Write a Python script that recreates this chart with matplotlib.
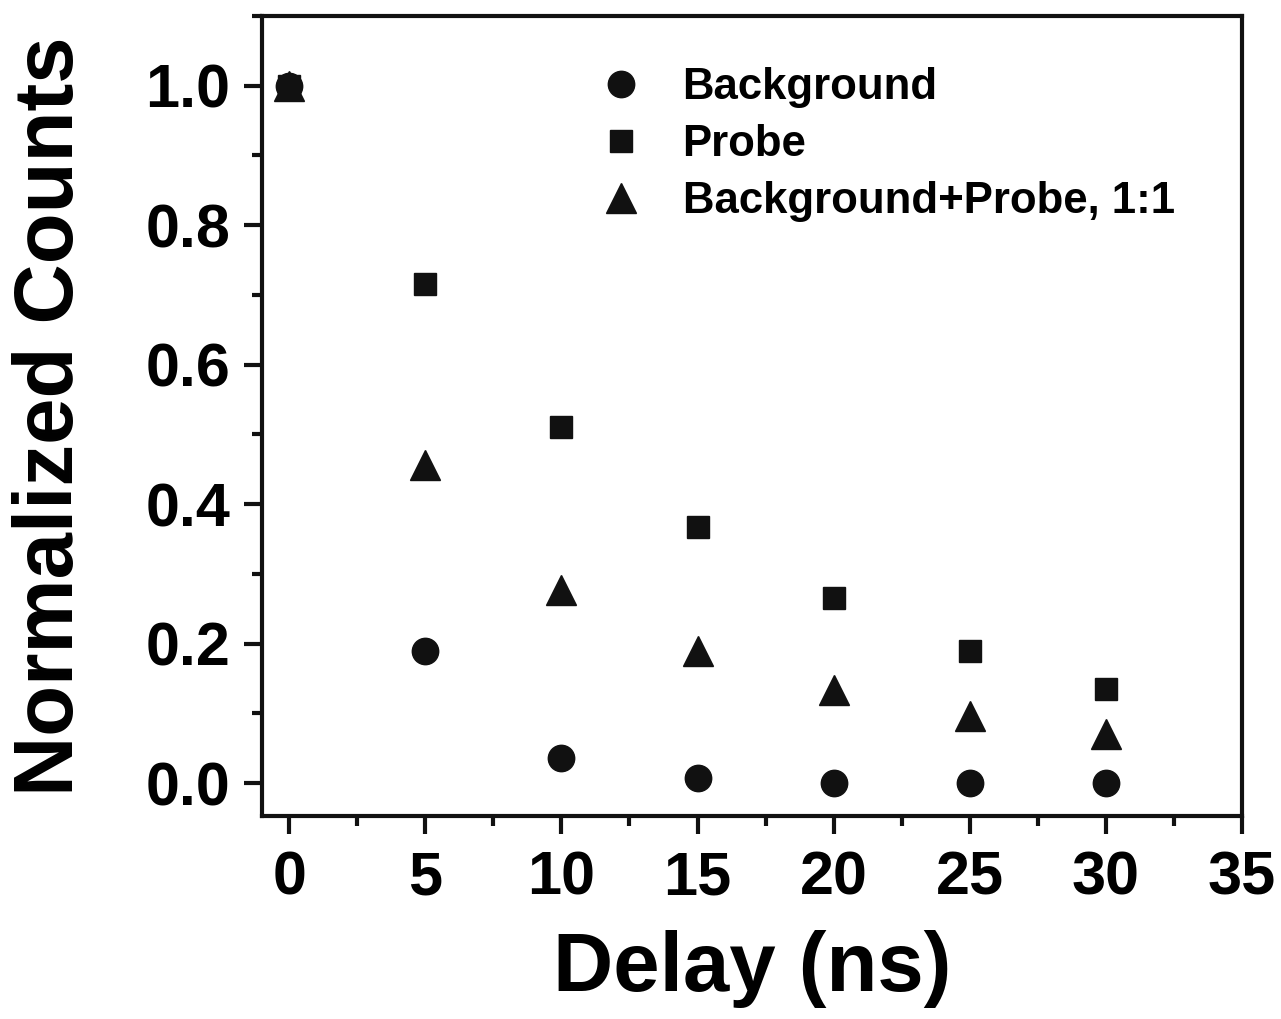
import matplotlib.pyplot as plt
from matplotlib.ticker import MultipleLocator

delay = [0, 5, 10, 15, 20, 25, 30]
background = [1.0, 0.189, 0.036, 0.007, 0.0, 0.0, 0.0]
probe = [1.0, 0.716, 0.511, 0.367, 0.265, 0.189, 0.135]
mixed = [1.0, 0.456, 0.277, 0.189, 0.133, 0.097, 0.070]

labels = ["Background", "Probe", "Background+Probe, 1:1"]


def plot_counts():
    plt.rcParams['font.family'] = ['Liberation Sans', 'DejaVu Sans']
    plt.rcParams['font.weight'] = 'bold'

    fig = plt.figure(figsize=(12.81, 10.19), dpi=100)
    ax = fig.add_axes([0.2045, 0.1992, 0.7651, 0.7851])

    ax.plot(delay, background, 'o', color='#111111', markersize=19, label=labels[0])
    ax.plot(delay, probe, 's', color='#111111', markersize=16, label=labels[1])
    ax.plot(delay, mixed, '^', color='#111111', markersize=21, label=labels[2])

    ax.set_xlim(-1, 35)
    ax.set_ylim(-0.047, 1.1)
    ax.xaxis.set_major_locator(MultipleLocator(5))
    ax.xaxis.set_minor_locator(MultipleLocator(2.5))
    ax.yaxis.set_major_locator(MultipleLocator(0.2))
    ax.yaxis.set_minor_locator(MultipleLocator(0.1))
    ax.yaxis.set_major_formatter(plt.FormatStrFormatter('%.1f'))

    for s in ax.spines.values():
        s.set_linewidth(3)
        s.set_color('#111111')
    ax.tick_params(which='both', direction='out', width=3, color='#111111',
                   top=False, right=False)
    ax.tick_params(which='major', length=13, labelsize=44, pad=10)
    ax.tick_params(axis='x', which='major', pad=12)
    ax.tick_params(which='minor', length=7)

    ax.set_xlabel("Delay (ns)", fontsize=60, fontweight='bold', labelpad=16)
    ax.set_ylabel("Normalized Counts", fontsize=60, fontweight='bold')
    ax.yaxis.set_label_coords(-0.175, 0.5)

    ax.legend(loc='upper left', bbox_to_anchor=(0.322, 0.963), frameon=False,
              fontsize=31.5, handletextpad=0.9, labelspacing=0.36,
              borderpad=0, handlelength=1.0)

    fig.savefig("out.png", dpi=100)


def main():
    plot_counts()


if __name__ == '__main__':
    main()
